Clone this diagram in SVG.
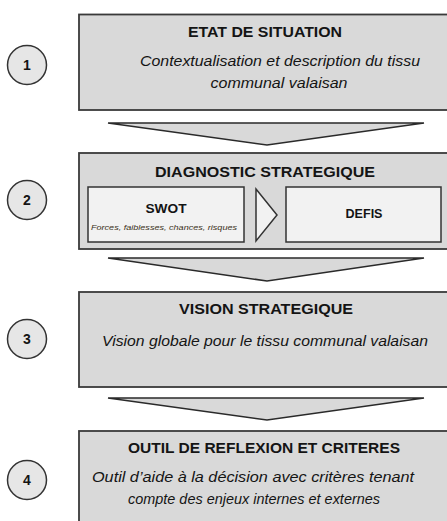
<svg xmlns="http://www.w3.org/2000/svg" width="447" height="521" viewBox="0 0 447 521">
<style>
.box{fill:#d9d9d9;stroke:#3a3a3a;stroke-width:1.8}
.inner{fill:#f2f2f2;stroke:#333;stroke-width:1.5}
.num{fill:#e6e6e6;stroke:#333;stroke-width:1.5}
.chev{fill:#d9d9d9;stroke:#2a2a2a;stroke-width:1.5;stroke-linejoin:miter}
text{font-family:"Liberation Sans",Arial,sans-serif;fill:#141414;text-anchor:middle}
.t{font-weight:bold;font-size:15.5px}
.i{font-style:italic;font-size:15px}
.n{font-weight:bold;font-size:14px}
.s{font-weight:bold;font-size:12.5px}
.f{font-style:italic;font-size:8px;fill:#3a3020}
</style>
<rect width="447" height="521" fill="#ffffff"/>
<g id="connectors">
<polygon class="chev" points="108,123 424,123 267,145"/>
<polygon class="chev" points="108,258 424,258 267,281"/>
<polygon class="chev" points="108,398 424,398 267,420"/>
</g>
<g id="step1">
<circle class="num" cx="27" cy="65" r="19.5"/>
<text class="n" x="27" y="70">1</text>
</g>
<g id="step2">
<circle class="num" cx="27" cy="200" r="19.5"/>
<text class="n" x="27" y="205">2</text>
</g>
<g id="step3">
<circle class="num" cx="27" cy="339" r="19.5"/>
<text class="n" x="27" y="344">3</text>
</g>
<g id="step4">
<circle class="num" cx="27" cy="480" r="19.5"/>
<text class="n" x="27" y="485">4</text>
</g>
<g id="etat">
<rect class="box" x="79" y="14.5" width="372" height="95.5"/>
<text class="t" x="265" y="36.5" textLength="154" lengthAdjust="spacingAndGlyphs">ETAT DE SITUATION</text>
<text class="i" x="280" y="65.5" textLength="280" lengthAdjust="spacingAndGlyphs">Contextualisation et description du tissu</text>
<text class="i" x="279" y="88" textLength="137" lengthAdjust="spacingAndGlyphs">communal valaisan</text>
</g>
<g id="diagnostic">
<rect class="box" x="79" y="153" width="372" height="96"/>
<text class="t" x="265" y="177" textLength="220" lengthAdjust="spacingAndGlyphs">DIAGNOSTIC STRATEGIQUE</text>
</g>
<g id="swot">
<rect class="inner" x="88" y="187" width="156" height="55"/>
<text class="s" x="166" y="213" textLength="41" lengthAdjust="spacingAndGlyphs">SWOT</text>
<text class="f" x="164" y="230" textLength="146" lengthAdjust="spacingAndGlyphs">Forces, faiblesses, chances, risques</text>
</g>
<g id="fleche">
<polygon class="inner" points="256,189 277,215 256,241"/>
</g>
<g id="defis">
<rect class="inner" x="286" y="187" width="155" height="55"/>
<text class="s" x="364" y="218" textLength="37" lengthAdjust="spacingAndGlyphs">DEFIS</text>
</g>
<g id="vision">
<rect class="box" x="79" y="292" width="372" height="95"/>
<text class="t" x="266" y="313.5" textLength="174" lengthAdjust="spacingAndGlyphs">VISION STRATEGIQUE</text>
<text class="i" x="265" y="346" textLength="326" lengthAdjust="spacingAndGlyphs">Vision globale pour le tissu communal valaisan</text>
</g>
<g id="outil">
<rect class="box" x="79" y="431" width="372" height="100"/>
<text class="t" x="264" y="452.5" textLength="272" lengthAdjust="spacingAndGlyphs">OUTIL DE REFLEXION ET CRITERES</text>
<text class="i" x="253" y="482" textLength="322" lengthAdjust="spacingAndGlyphs">Outil d’aide à la décision avec critères tenant</text>
<text class="i" x="254" y="504" textLength="252" lengthAdjust="spacingAndGlyphs">compte des enjeux internes et externes</text>
</g>
</svg>
